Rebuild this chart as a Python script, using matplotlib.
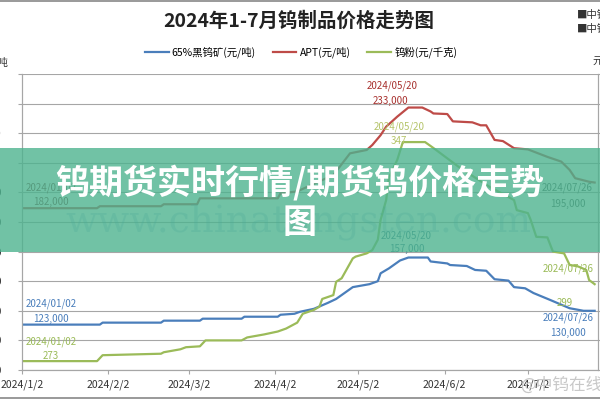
import matplotlib.pyplot as plt
from matplotlib.patches import Rectangle
from matplotlib.lines import Line2D
import pandas as pd

plt.rcParams['font.family'] = ['Noto Sans CJK SC', 'DejaVu Sans']

# 65%黑钨矿 (元/吨)
ore_dates = ['2024-01-02', '2024-01-30', '2024-01-31', '2024-02-21', '2024-02-22', '2024-03-06',
             '2024-03-07', '2024-03-21', '2024-03-22', '2024-04-03', '2024-04-04', '2024-04-09',
             '2024-04-11', '2024-04-16', '2024-04-21', '2024-04-24', '2024-04-26', '2024-04-30',
             '2024-05-06', '2024-05-09', '2024-05-10', '2024-05-13', '2024-05-17', '2024-05-20',
             '2024-05-27', '2024-05-28', '2024-06-03', '2024-06-04', '2024-06-10', '2024-06-13',
             '2024-06-17', '2024-06-20', '2024-06-25', '2024-06-27', '2024-07-01', '2024-07-04',
             '2024-07-10', '2024-07-17', '2024-07-22', '2024-07-26']
ore_vals = [123000, 123000, 124000, 124000, 125000, 125000,
            126000, 126000, 127000, 127000, 128000, 128500,
            129500, 131000, 134000, 136000, 138000, 142000,
            143500, 145000, 149000, 151500, 155500, 157000,
            157000, 155000, 154000, 153200, 152700, 150700,
            150300, 146000, 145300, 142000, 141400, 139000,
            135500, 131300, 130000, 130000]

# APT (元/吨)
apt_dates = ['2024-01-02', '2024-01-29', '2024-01-30', '2024-02-21', '2024-02-22', '2024-03-05',
             '2024-03-06', '2024-04-03', '2024-04-04', '2024-04-10', '2024-04-23', '2024-04-29',
             '2024-05-05', '2024-05-07', '2024-05-10', '2024-05-12', '2024-05-16', '2024-05-20',
             '2024-05-25', '2024-05-28', '2024-05-29', '2024-06-03', '2024-06-05', '2024-06-12',
             '2024-06-15', '2024-06-17', '2024-06-20', '2024-06-23', '2024-06-27', '2024-07-02',
             '2024-07-09', '2024-07-14', '2024-07-17', '2024-07-19', '2024-07-24', '2024-07-26']
apt_vals = [182000, 182000, 183000, 183000, 184000, 184000,
            187000, 187000, 189500, 190500, 198800, 209800,
            211500, 214000, 219000, 223300, 228400, 233000,
            233000, 231000, 230000, 229700, 226000, 225500,
            224000, 224000, 216600, 216000, 212400, 211800,
            208000, 205600, 201400, 197200, 195400, 195000]

# 钨粉 (元/千克)
pow_dates = ['2024-01-02', '2024-01-29', '2024-01-31', '2024-02-21', '2024-02-22', '2024-02-28',
             '2024-03-01', '2024-03-06', '2024-03-08', '2024-03-21', '2024-03-23', '2024-03-29',
             '2024-04-03', '2024-04-06', '2024-04-10', '2024-04-11', '2024-04-12', '2024-04-16',
             '2024-04-18', '2024-04-19', '2024-04-23', '2024-04-24', '2024-04-26', '2024-04-30',
             '2024-05-01', '2024-05-05', '2024-05-07', '2024-05-09', '2024-05-10', '2024-05-12',
             '2024-05-13', '2024-05-16', '2024-05-18', '2024-05-20', '2024-05-26', '2024-05-29',
             '2024-06-08', '2024-06-18', '2024-06-27', '2024-06-28', '2024-07-02', '2024-07-03',
             '2024-07-05', '2024-07-09', '2024-07-11', '2024-07-15', '2024-07-17', '2024-07-20',
             '2024-07-23', '2024-07-24', '2024-07-26']
pow_vals = [273, 273, 275, 275.5, 276, 277,
            277.7, 278, 280, 280, 281, 282,
            283, 284, 286, 287.5, 289, 290.3,
            291.4, 294, 295.3, 299.8, 301, 307.7,
            308.3, 309.4, 310.5, 314, 320.7, 327.4,
            335, 341, 347, 347, 347, 345,
            338, 332, 327.4, 324, 323, 320.7,
            315, 314.8, 310, 309.4, 305.5, 305,
            303.8, 300.4, 299]

x_ticks = ['2024-01-02', '2024-02-02', '2024-03-02', '2024-04-02', '2024-05-02', '2024-06-02', '2024-07-02']

c_ore, c_apt, c_pow = '#4a7ebb', '#be4b48', '#9bbb59'

fig = plt.figure(figsize=(6, 4), dpi=100)
ax = fig.add_axes([22 / 600, 30 / 400, 576 / 600, 296 / 400])
ax2 = ax.twinx()

ax.plot(pd.to_datetime(ore_dates), ore_vals, color=c_ore, lw=1.6)
ax.plot(pd.to_datetime(apt_dates), apt_vals, color=c_apt, lw=1.6)
ax2.plot(pd.to_datetime(pow_dates), pow_vals, color=c_pow, lw=1.6)

ax.set_xlim(pd.Timestamp('2024-01-02'), pd.Timestamp('2024-07-27 05:00'))
ax.set_ylim(100000, 250000)
ax.set_yticks(range(100000, 250001, 15000))
ax.yaxis.set_major_formatter(plt.FuncFormatter(lambda v, p: f'{int(v):,}'))
ax2.set_ylim(270, 370)
ax2.set_yticks(range(270, 371, 10))

ax.set_xticks(pd.to_datetime(x_ticks))
ax.set_xticklabels([f'{d.year}/{d.month}/{d.day}' for d in pd.to_datetime(x_ticks)])
ax.grid(axis='y', color='#a6a6a6', lw=0.8)
ax.set_axisbelow(True)
for a in (ax, ax2):
    for s in a.spines.values():
        s.set_color('#a6a6a6')
    a.spines['top'].set_visible(False)
    a.tick_params(colors='#a6a6a6', labelcolor='#333333', labelsize=7.5, length=3, width=0.8)
ax.tick_params(axis='y', pad=12)
ax2.tick_params(axis='y', pad=4)

# data labels
def label(a, x, y, text, dx, dy, color):
    a.annotate(text, xy=(pd.Timestamp(x), y), xytext=(dx, dy), textcoords='offset pixels',
               ha='center', va='center', fontsize=7, color=color)

label(ax, ore_dates[0], ore_vals[0], '2024/01/02', 29, 21, c_ore)
label(ax, ore_dates[0], ore_vals[0], '123,000', 29, 6, c_ore)
label(ax, apt_dates[0], apt_vals[0], '2024/01/02', 29, 20, '#7a3a38')
label(ax, apt_dates[0], apt_vals[0], '182,000', 29, 6, '#7a3a38')
label(ax2, pow_dates[0], pow_vals[0], '2024/01/02', 29, 19, c_pow)
label(ax2, pow_dates[0], pow_vals[0], '273', 29, 5, c_pow)

label(ax, '2024-05-20', 233000, '2024/05/20', -16, 22, '#a8322f')
label(ax, '2024-05-20', 233000, '233,000', -18, 7, '#a8322f')
label(ax2, '2024-05-20', 347, '2024/05/20', -9, 15, '#b5c46a')
label(ax2, '2024-05-20', 347, '347', -10, 1, '#b5c46a')
label(ax, '2024-05-20', 157000, '2024/05/20', -2, 22, '#3f7a8f')
label(ax, '2024-05-20', 157000, '157,000', -2, 9, '#3f7a8f')

label(ax, apt_dates[-1], apt_vals[-1], '2024/07/26', -27, -5, '#4d5a55')
label(ax, apt_dates[-1], apt_vals[-1], '195,000', -27, -21, '#4d5a55')
label(ax2, pow_dates[-1], pow_vals[-1], '2024/07/26', -26, 15, c_pow)
label(ax2, pow_dates[-1], pow_vals[-1], '299', -30, -19, c_pow)
label(ax, ore_dates[-1], ore_vals[-1], '2024/07/26', -26, -7, c_ore)
label(ax, ore_dates[-1], ore_vals[-1], '130,000', -27, -22, c_ore)

# axis units and source notes (cut at the image edges)
fig.text(8 / 600, 338 / 400, '元/吨', ha='right', va='center', fontsize=7.5, color='#333333')
fig.text(592 / 600, 340 / 400, '元/千克', ha='left', va='center', fontsize=7.5, color='#333333')
fig.text(577 / 600, 385 / 400, '■中钨在线', ha='left', va='center', fontsize=7.5, color='#333333')
fig.text(577 / 600, 371 / 400, '■中钨在线', ha='left', va='center', fontsize=7.5, color='#333333')

fig.text(299 / 600, 379 / 400, '2024年1-7月钨制品价格走势图', ha='center', va='center',
         fontsize=14, fontweight='bold', color='#222222')

handles = [Line2D([], [], color=c_ore, lw=1.6), Line2D([], [], color=c_apt, lw=1.6),
           Line2D([], [], color=c_pow, lw=1.6)]
fig.legend(handles, ['65%黑钨矿(元/吨)', 'APT(元/吨)', '钨粉(元/千克)'], ncol=3,
           loc='center', bbox_to_anchor=(301 / 600, 348 / 400), frameon=False, fontsize=7.5,
           handlelength=2.3, handletextpad=0.3, columnspacing=1.6)

# watermarks
fig.text(298 / 600, 178 / 400, 'www.chinatungsten.com', ha='center', va='center',
         fontsize=27, family='DejaVu Serif', color='#3f7fb5', alpha=0.25)
fig.text(520 / 600, 15 / 400, '@中钨在线', ha='left', va='center', fontsize=12, color='#c8c8c8')

# frame lines
fig.add_artist(Line2D([0, 1], [0.997, 0.997], transform=fig.transFigure, color='#888888', lw=1.2))
fig.add_artist(Line2D([0, 1], [0.004, 0.004], transform=fig.transFigure, color='#888888', lw=1.2))

# green banner over the chart
fig.add_artist(Rectangle((0, 148 / 400), 1, 104 / 400, transform=fig.transFigure,
                         facecolor='#4db38f', alpha=0.8, edgecolor='none', zorder=10))
fig.text(300 / 600, 217 / 400, '钨期货实时行情/期货钨价格走势', ha='center', va='center',
         fontsize=24.5, fontweight='heavy', color='white', zorder=11)
fig.text(300 / 600, 178 / 400, '图', ha='center', va='center',
         fontsize=24.5, fontweight='heavy', color='white', zorder=11)

fig.savefig('out.png', dpi=100)
